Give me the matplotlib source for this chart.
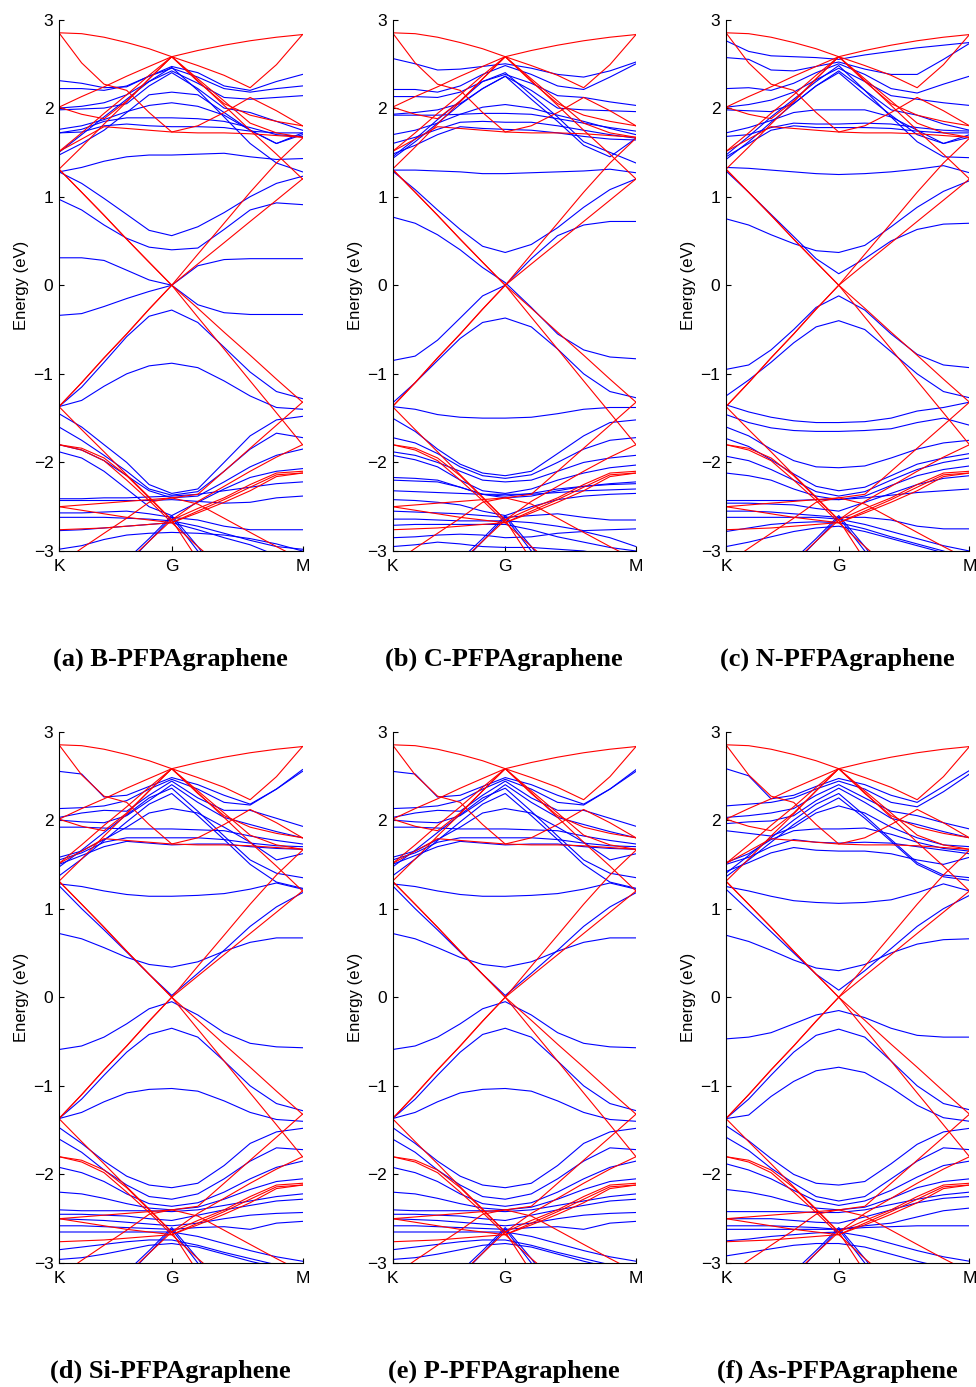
import matplotlib.pyplot as plt

# k-path sample points: K (0) -> G (0.463) -> M (1)
k = [0.0, 0.093, 0.185, 0.278, 0.370, 0.463, 0.570, 0.678, 0.785, 0.893, 1.0]
k_ticks = [0.0, 0.463, 1.0]
k_labels = ['K', 'G', 'M']

# pristine graphene supercell bands (red), same in every panel
red_bands = [
    [2.85, 2.84, 2.80, 2.74, 2.67, 2.58, 2.65, 2.71, 2.76, 2.80, 2.83],
    [2.85, 2.51, 2.27, 2.20, 1.95, 1.73, 1.80, 1.95, 2.12, 1.97, 1.80],
    [2.01, 2.13, 2.24, 2.36, 2.47, 2.58, 2.48, 2.37, 2.23, 2.49, 2.83],
    [2.01, 1.93, 1.88, 2.08, 2.33, 2.58, 2.30, 2.05, 1.92, 1.85, 1.80],
    [1.51, 1.65, 1.79, 1.77, 1.75, 1.73, 1.72, 1.72, 1.71, 1.69, 1.67],
    [1.51, 1.72, 1.94, 2.15, 2.37, 2.58, 2.33, 2.08, 1.83, 1.72, 1.67],
    [1.31, 1.56, 1.82, 2.07, 2.33, 2.58, 2.31, 2.03, 1.75, 1.48, 1.20],
    [1.31, 1.05, 0.79, 0.52, 0.26, 0.00, -0.26, -0.53, -0.79, -1.06, -1.32],
    [1.31, 1.05, 0.79, 0.52, 0.26, 0.00, -0.36, -0.72, -1.08, -1.44, -1.80],
    [-1.37, -1.10, -0.82, -0.55, -0.27, 0.00, 0.24, 0.48, 0.72, 0.96, 1.20],
    [-1.37, -1.10, -0.82, -0.55, -0.27, 0.00, 0.35, 0.70, 1.05, 1.38, 1.66],
    [-1.37, -1.63, -1.88, -2.14, -2.39, -2.65, -2.44, -2.27, -2.10, -1.94, -1.80],
    [-1.80, -1.84, -1.95, -2.15, -2.40, -2.65, -2.52, -2.40, -2.25, -2.12, -2.10],
    [-1.80, -1.86, -1.98, -2.20, -2.43, -2.68, -2.55, -2.42, -2.28, -2.14, -2.12],
    [-2.50, -2.48, -2.46, -2.44, -2.42, -2.40, -2.36, -2.10, -1.84, -1.58, -1.32],
    [-3.15, -2.97, -2.80, -2.63, -2.45, -2.40, -2.47, -2.63, -2.79, -2.95, -3.10],
    [-2.50, -2.54, -2.58, -2.62, -2.65, -2.68, -2.57, -2.45, -2.32, -2.16, -2.12],
    [-2.76, -2.75, -2.74, -2.72, -2.70, -2.68, -2.95, -3.20, -3.45, -3.70, -3.95],
    [-4.00, -3.80, -3.55, -3.13, -2.89, -2.65, -3.10, -3.50, -3.90, -4.20, -4.50],
]

steep_blue = [
    [-4.2, -3.9, -3.6, -3.15, -2.89, -2.62, -3.00, -3.40, -3.80, -4.10, -4.40],
    [-4.0, -3.7, -3.45, -3.10, -2.86, -2.60, -2.95, -3.35, -3.70, -4.00, -4.30],
]

blue_b_dop = [
    [2.31, 2.28, 2.23, 2.24, 2.36, 2.47, 2.40, 2.25, 2.20, 2.30, 2.38],
    [2.22, 2.22, 2.20, 2.25, 2.36, 2.45, 2.35, 2.22, 2.18, 2.22, 2.25],
    [2.00, 2.02, 2.06, 2.15, 2.30, 2.42, 2.28, 2.12, 2.10, 2.12, 2.14],
    [1.98, 1.99, 2.00, 2.05, 2.25, 2.40, 2.22, 2.00, 1.95, 1.85, 1.75],
    [1.76, 1.80, 1.87, 1.96, 2.03, 2.06, 2.02, 1.92, 1.75, 1.60, 1.70],
    [1.47, 1.60, 1.75, 1.95, 2.15, 2.18, 2.15, 1.95, 1.75, 1.60, 1.72],
    [1.72, 1.76, 1.85, 1.89, 1.89, 1.89, 1.88, 1.85, 1.78, 1.70, 1.68],
    [1.72, 1.73, 1.80, 1.82, 1.80, 1.79, 1.79, 1.78, 1.74, 1.72, 1.72],
    [1.28, 1.33, 1.40, 1.45, 1.47, 1.47, 1.48, 1.49, 1.45, 1.42, 1.43],
    [1.50, 1.70, 1.90, 2.10, 2.30, 2.46, 2.20, 1.90, 1.60, 1.38, 1.28],
    [1.28, 1.15, 0.98, 0.80, 0.62, 0.56, 0.66, 0.82, 1.00, 1.15, 1.23],
    [0.97, 0.85, 0.68, 0.53, 0.43, 0.40, 0.42, 0.63, 0.85, 0.93, 0.91],
    [0.31, 0.31, 0.28, 0.17, 0.06, 0.00, -0.22, -0.31, -0.33, -0.33, -0.33],
    [-0.34, -0.32, -0.24, -0.15, -0.07, 0.00, 0.22, 0.29, 0.30, 0.30, 0.30],
    [-1.37, -1.15, -0.87, -0.58, -0.35, -0.28, -0.42, -0.70, -0.98, -1.20, -1.28],
    [-1.37, -1.30, -1.14, -1.00, -0.91, -0.88, -0.93, -1.08, -1.25, -1.38, -1.40],
    [-1.45, -1.60, -1.80, -2.00, -2.25, -2.35, -2.30, -2.00, -1.70, -1.52, -1.48],
    [-1.60, -1.75, -1.92, -2.10, -2.30, -2.37, -2.33, -2.10, -1.85, -1.67, -1.72],
    [-1.80, -1.86, -1.98, -2.15, -2.32, -2.40, -2.38, -2.22, -2.05, -1.92, -1.85],
    [-1.88, -1.95, -2.10, -2.30, -2.50, -2.60, -2.45, -2.30, -2.17, -2.10, -2.07],
    [-2.41, -2.41, -2.40, -2.40, -2.39, -2.38, -2.36, -2.32, -2.28, -2.24, -2.22],
    [-2.43, -2.43, -2.43, -2.43, -2.43, -2.42, -2.44, -2.46, -2.45, -2.40, -2.38],
    [-2.57, -2.57, -2.56, -2.55, -2.58, -2.62, -2.65, -2.72, -2.76, -2.76, -2.76],
    [-2.62, -2.62, -2.62, -2.63, -2.64, -2.66, -2.72, -2.80, -2.88, -2.95, -2.98],
    [-2.77, -2.76, -2.74, -2.72, -2.70, -2.68, -2.76, -2.85, -2.93, -3.05, -3.10],
    [-2.98, -2.94, -2.87, -2.82, -2.80, -2.79, -2.80, -2.82, -2.86, -2.92, -3.00],
]

blue_c_dop = [
    [2.56, 2.50, 2.43, 2.44, 2.47, 2.50, 2.45, 2.38, 2.35, 2.42, 2.52],
    [2.21, 2.21, 2.18, 2.25, 2.38, 2.48, 2.38, 2.25, 2.21, 2.35, 2.50],
    [2.13, 2.13, 2.12, 2.18, 2.30, 2.38, 2.28, 2.14, 2.12, 2.07, 2.03],
    [1.93, 1.95, 1.98, 2.05, 2.22, 2.36, 2.20, 2.00, 1.98, 1.97, 1.96],
    [1.70, 1.75, 1.83, 1.93, 2.01, 2.04, 2.00, 1.92, 1.85, 1.77, 1.70],
    [1.92, 1.92, 1.92, 1.93, 1.94, 1.94, 1.93, 1.88, 1.83, 1.78, 1.74],
    [1.60, 1.67, 1.76, 1.84, 1.85, 1.84, 1.84, 1.80, 1.75, 1.70, 1.66],
    [1.48, 1.58, 1.70, 1.79, 1.77, 1.76, 1.75, 1.72, 1.68, 1.65, 1.64],
    [1.45, 1.65, 1.87, 2.08, 2.30, 2.40, 2.15, 1.90, 1.62, 1.50, 1.38],
    [1.43, 1.62, 1.83, 2.04, 2.22, 2.36, 2.10, 1.85, 1.58, 1.45, 1.66],
    [1.30, 1.30, 1.29, 1.28, 1.26, 1.26, 1.27, 1.28, 1.29, 1.31, 1.27],
    [1.29, 1.08, 0.85, 0.63, 0.44, 0.37, 0.46, 0.65, 0.88, 1.08, 1.20],
    [0.77, 0.70, 0.57, 0.40, 0.20, 0.03, -0.25, -0.55, -0.73, -0.81, -0.83],
    [-0.85, -0.80, -0.62, -0.37, -0.12, 0.00, 0.30, 0.56, 0.68, 0.72, 0.72],
    [-1.33, -1.10, -0.85, -0.60, -0.42, -0.37, -0.47, -0.72, -1.00, -1.20, -1.27],
    [-1.37, -1.40, -1.46, -1.49, -1.50, -1.50, -1.49, -1.45, -1.40, -1.38, -1.38],
    [-1.50, -1.65, -1.85, -2.02, -2.12, -2.15, -2.10, -1.90, -1.70, -1.55, -1.52],
    [-1.72, -1.78, -1.90, -2.05, -2.15, -2.18, -2.14, -2.00, -1.85, -1.75, -1.72],
    [-1.88, -1.92, -2.00, -2.10, -2.20, -2.22, -2.20, -2.10, -2.00, -1.95, -1.92],
    [-1.92, -1.97, -2.05, -2.20, -2.32, -2.35, -2.30, -2.20, -2.12, -2.06, -2.03],
    [-2.17, -2.18, -2.20, -2.28, -2.36, -2.40, -2.38, -2.32, -2.27, -2.24, -2.22],
    [-2.20, -2.21, -2.22, -2.28, -2.36, -2.38, -2.35, -2.30, -2.27, -2.25, -2.24],
    [-2.32, -2.33, -2.34, -2.35, -2.36, -2.36, -2.36, -2.34, -2.32, -2.31, -2.30],
    [-2.42, -2.43, -2.45, -2.48, -2.55, -2.60, -2.50, -2.42, -2.38, -2.36, -2.35],
    [-2.55, -2.56, -2.57, -2.58, -2.60, -2.62, -2.60, -2.58, -2.62, -2.65, -2.65],
    [-2.64, -2.64, -2.65, -2.66, -2.66, -2.66, -2.68, -2.72, -2.77, -2.76, -2.75],
    [-2.71, -2.70, -2.70, -2.70, -2.70, -2.70, -2.76, -2.84, -2.90, -2.96, -3.00],
    [-2.85, -2.84, -2.82, -2.81, -2.82, -2.85, -2.84, -2.80, -2.78, -2.85, -2.95],
    [-2.95, -2.93, -2.90, -2.92, -2.95, -2.96, -2.96, -2.98, -3.00, -3.05, -3.10],
]

blue_n_dop = [
    [2.76, 2.64, 2.59, 2.58, 2.57, 2.55, 2.60, 2.64, 2.68, 2.71, 2.74],
    [2.57, 2.55, 2.43, 2.42, 2.47, 2.52, 2.44, 2.38, 2.38, 2.55, 2.73],
    [2.22, 2.23, 2.20, 2.28, 2.40, 2.50, 2.38, 2.22, 2.17, 2.27, 2.36],
    [2.01, 2.04, 2.09, 2.18, 2.32, 2.45, 2.30, 2.14, 2.10, 2.06, 2.03],
    [1.98, 1.97, 1.96, 2.05, 2.25, 2.42, 2.20, 1.98, 1.92, 1.82, 1.75],
    [1.72, 1.78, 1.86, 1.95, 1.98, 1.98, 1.98, 1.90, 1.75, 1.60, 1.67],
    [1.68, 1.70, 1.78, 1.83, 1.82, 1.82, 1.83, 1.82, 1.78, 1.75, 1.74],
    [1.45, 1.60, 1.75, 1.80, 1.78, 1.78, 1.78, 1.77, 1.74, 1.72, 1.72],
    [1.47, 1.68, 1.90, 2.10, 2.30, 2.48, 2.20, 1.90, 1.62, 1.45, 1.44],
    [1.42, 1.62, 1.84, 2.05, 2.25, 2.40, 2.15, 1.92, 1.70, 1.60, 1.70],
    [1.33, 1.32, 1.30, 1.28, 1.26, 1.25, 1.26, 1.28, 1.31, 1.35, 1.27],
    [1.29, 1.05, 0.80, 0.55, 0.30, 0.13, 0.30, 0.50, 0.63, 0.69, 0.70],
    [0.75, 0.68, 0.57, 0.47, 0.39, 0.37, 0.45, 0.66, 0.88, 1.06, 1.18],
    [-0.95, -0.90, -0.73, -0.50, -0.25, -0.12, -0.28, -0.55, -0.78, -0.90, -0.93],
    [-1.25, -1.07, -0.87, -0.65, -0.47, -0.40, -0.50, -0.75, -1.00, -1.20, -1.27],
    [-1.35, -1.43, -1.49, -1.53, -1.55, -1.55, -1.54, -1.50, -1.42, -1.38, -1.32],
    [-1.46, -1.55, -1.61, -1.64, -1.65, -1.65, -1.64, -1.62, -1.55, -1.50, -1.58],
    [-1.60, -1.70, -1.85, -1.98, -2.05, -2.06, -2.04, -1.95, -1.85, -1.78, -1.75],
    [-1.73, -1.82, -1.97, -2.13, -2.27, -2.32, -2.28, -2.15, -2.02, -1.95, -1.90],
    [-1.93, -1.98, -2.08, -2.20, -2.33, -2.38, -2.33, -2.20, -2.08, -2.00, -1.95],
    [-2.12, -2.15, -2.20, -2.30, -2.38, -2.42, -2.38, -2.26, -2.15, -2.08, -2.04],
    [-2.43, -2.43, -2.43, -2.43, -2.42, -2.42, -2.40, -2.37, -2.34, -2.32, -2.30],
    [-2.46, -2.46, -2.47, -2.48, -2.52, -2.55, -2.45, -2.35, -2.25, -2.18, -2.15],
    [-2.55, -2.55, -2.56, -2.58, -2.60, -2.62, -2.62, -2.65, -2.72, -2.75, -2.75],
    [-2.62, -2.62, -2.62, -2.62, -2.62, -2.64, -2.70, -2.78, -2.86, -2.94, -3.00],
    [-2.78, -2.74, -2.70, -2.68, -2.67, -2.68, -2.75, -2.84, -2.92, -3.00, -3.10],
    [-2.95, -2.90, -2.84, -2.78, -2.74, -2.72, -2.78, -2.86, -2.94, -3.02, -3.10],
]

blue_si_dop = [
    [2.55, 2.52, 2.26, 2.28, 2.38, 2.48, 2.40, 2.28, 2.18, 2.35, 2.57],
    [2.13, 2.14, 2.16, 2.22, 2.35, 2.46, 2.35, 2.20, 2.17, 2.35, 2.55],
    [2.03, 2.08, 2.11, 2.10, 2.28, 2.44, 2.25, 2.11, 2.11, 2.02, 1.93],
    [2.00, 1.98, 1.97, 2.05, 2.22, 2.40, 2.20, 2.03, 1.95, 1.87, 1.80],
    [1.58, 1.65, 1.78, 1.92, 2.08, 2.13, 2.08, 1.92, 1.75, 1.55, 1.62],
    [1.92, 1.92, 1.91, 1.90, 1.90, 1.90, 1.89, 1.88, 1.82, 1.77, 1.73],
    [1.55, 1.63, 1.75, 1.80, 1.80, 1.80, 1.80, 1.78, 1.74, 1.71, 1.70],
    [1.50, 1.60, 1.70, 1.76, 1.74, 1.72, 1.73, 1.73, 1.70, 1.68, 1.67],
    [1.47, 1.66, 1.86, 2.06, 2.25, 2.36, 2.10, 1.82, 1.55, 1.40, 1.35],
    [1.37, 1.56, 1.77, 1.98, 2.18, 2.30, 2.05, 1.78, 1.50, 1.30, 1.23],
    [1.28, 1.25, 1.20, 1.16, 1.14, 1.14, 1.15, 1.17, 1.22, 1.29, 1.22],
    [1.26, 1.00, 0.76, 0.51, 0.26, 0.02, 0.27, 0.53, 0.80, 1.02, 1.18],
    [0.72, 0.66, 0.56, 0.45, 0.37, 0.34, 0.40, 0.52, 0.62, 0.67, 0.67],
    [-0.59, -0.55, -0.45, -0.30, -0.13, -0.05, -0.20, -0.40, -0.52, -0.56, -0.57],
    [-1.37, -1.15, -0.88, -0.62, -0.42, -0.35, -0.45, -0.72, -1.00, -1.20, -1.28],
    [-1.37, -1.30, -1.18, -1.08, -1.04, -1.03, -1.06, -1.17, -1.30, -1.38, -1.40],
    [-1.47, -1.65, -1.85, -2.02, -2.12, -2.15, -2.10, -1.90, -1.65, -1.52, -1.48],
    [-1.60, -1.75, -1.95, -2.12, -2.25, -2.28, -2.22, -2.05, -1.85, -1.70, -1.72],
    [-1.92, -1.98, -2.08, -2.22, -2.33, -2.36, -2.32, -2.20, -2.05, -1.92, -1.85],
    [-2.20, -2.22, -2.27, -2.33, -2.38, -2.40, -2.37, -2.28, -2.17, -2.08, -2.05],
    [-2.40, -2.41, -2.41, -2.41, -2.41, -2.42, -2.40, -2.35, -2.30, -2.25, -2.22],
    [-2.45, -2.45, -2.46, -2.47, -2.50, -2.52, -2.46, -2.40, -2.35, -2.30, -2.28],
    [-2.50, -2.51, -2.52, -2.54, -2.56, -2.58, -2.55, -2.50, -2.46, -2.44, -2.43],
    [-2.58, -2.58, -2.59, -2.60, -2.61, -2.62, -2.60, -2.59, -2.62, -2.55, -2.53],
    [-2.65, -2.65, -2.65, -2.65, -2.65, -2.65, -2.70, -2.78, -2.86, -2.93, -2.98],
    [-2.85, -2.82, -2.79, -2.76, -2.74, -2.74, -2.80, -2.88, -2.95, -3.02, -3.10],
    [-2.96, -2.94, -2.90, -2.85, -2.80, -2.78, -2.82, -2.90, -2.98, -3.05, -3.10],
]

# P-doped bands read the same as the Si-doped ones
blue_p_dop = blue_si_dop

blue_as_dop = [
    [2.58, 2.50, 2.24, 2.28, 2.38, 2.47, 2.40, 2.28, 2.20, 2.38, 2.56],
    [2.16, 2.18, 2.20, 2.25, 2.35, 2.44, 2.35, 2.20, 2.15, 2.32, 2.52],
    [2.03, 2.05, 2.08, 2.13, 2.28, 2.40, 2.25, 2.10, 2.05, 1.97, 1.90],
    [1.96, 1.98, 1.99, 2.05, 2.22, 2.36, 2.20, 2.02, 1.95, 1.87, 1.80],
    [1.88, 1.85, 1.82, 1.92, 2.08, 2.16, 2.08, 1.92, 1.80, 1.72, 1.70],
    [1.52, 1.62, 1.78, 1.88, 1.90, 1.90, 1.91, 1.84, 1.75, 1.68, 1.65],
    [1.50, 1.58, 1.70, 1.78, 1.75, 1.74, 1.75, 1.74, 1.70, 1.66, 1.62],
    [1.42, 1.52, 1.63, 1.69, 1.66, 1.65, 1.65, 1.62, 1.55, 1.50, 1.58],
    [1.40, 1.60, 1.80, 2.00, 2.18, 2.30, 2.05, 1.78, 1.52, 1.38, 1.35],
    [1.36, 1.55, 1.75, 1.95, 2.12, 2.25, 2.02, 1.76, 1.50, 1.36, 1.32],
    [1.25, 1.20, 1.14, 1.09, 1.07, 1.06, 1.07, 1.10, 1.18, 1.28, 1.20],
    [1.22, 0.98, 0.74, 0.50, 0.26, 0.08, 0.30, 0.55, 0.80, 1.00, 1.15],
    [0.70, 0.63, 0.53, 0.42, 0.33, 0.30, 0.37, 0.50, 0.60, 0.65, 0.66],
    [-0.47, -0.45, -0.40, -0.30, -0.20, -0.15, -0.23, -0.35, -0.43, -0.45, -0.45],
    [-1.37, -1.15, -0.88, -0.62, -0.43, -0.36, -0.45, -0.72, -1.00, -1.20, -1.27],
    [-1.37, -1.33, -1.12, -0.95, -0.83, -0.79, -0.85, -1.02, -1.22, -1.36, -1.40],
    [-1.45, -1.62, -1.82, -2.00, -2.10, -2.12, -2.08, -1.88, -1.66, -1.52, -1.48],
    [-1.58, -1.73, -1.93, -2.10, -2.25, -2.30, -2.25, -2.05, -1.85, -1.70, -1.72],
    [-1.88, -1.95, -2.05, -2.18, -2.30, -2.35, -2.30, -2.18, -2.03, -1.90, -1.85],
    [-2.17, -2.20, -2.25, -2.32, -2.38, -2.40, -2.37, -2.27, -2.15, -2.08, -2.05],
    [-2.42, -2.42, -2.42, -2.42, -2.43, -2.43, -2.40, -2.34, -2.28, -2.23, -2.20],
    [-2.50, -2.50, -2.50, -2.52, -2.54, -2.55, -2.48, -2.40, -2.32, -2.27, -2.25],
    [-2.58, -2.58, -2.58, -2.59, -2.60, -2.62, -2.58, -2.55, -2.48, -2.41, -2.38],
    [-2.62, -2.62, -2.62, -2.62, -2.62, -2.62, -2.60, -2.59, -2.58, -2.58, -2.58],
    [-2.75, -2.73, -2.70, -2.68, -2.66, -2.65, -2.70, -2.78, -2.86, -2.93, -2.98],
    [-2.92, -2.88, -2.84, -2.80, -2.78, -2.78, -2.82, -2.90, -2.98, -3.05, -3.10],
]

captions = ['(a) B-PFPAgraphene', '(b) C-PFPAgraphene', '(c) N-PFPAgraphene',
            '(d) Si-PFPAgraphene', '(e) P-PFPAgraphene', '(f) As-PFPAgraphene']
blue_sets = [blue_b_dop, blue_c_dop, blue_n_dop, blue_si_dop, blue_p_dop, blue_as_dop]

fig = plt.figure(figsize=(9.76, 13.87), dpi=100)

lefts = [59, 392.5, 726]
tops = [19.5, 731.5]
W, H = 976.0, 1387.0
ax_w, ax_h = 243.5, 531.5
cap_x = [170, 504, 837]
cap_y = [659, 1371]

for i, (cap, blues) in enumerate(zip(captions, blue_sets)):
    row, col = divmod(i, 3)
    ax = fig.add_axes([lefts[col] / W, 1 - (tops[row] + ax_h) / H, ax_w / W, ax_h / H])
    for b in blues + steep_blue:
        ax.plot(k, b, color='#0000ff', lw=0.8)
    for r in red_bands:
        ax.plot(k, r, color='#ff0000', lw=0.8)
    ax.set_xlim(0, 1)
    ax.set_ylim(-3, 3)
    ax.set_xticks(k_ticks)
    ax.set_xticklabels(k_labels)
    ax.set_yticks(range(-3, 4))
    ax.set_yticklabels([str(v).replace('-', '\u2212') for v in range(-3, 4)])
    ax.spines['top'].set_visible(False)
    ax.spines['right'].set_visible(False)
    ax.tick_params(direction='in', length=3.5, width=0.8, labelsize=12.5, pad=4)
    ax.tick_params(axis='x', pad=6)
    for lab in ax.get_xticklabels() + ax.get_yticklabels():
        lab.set_family('Liberation Sans')
    ax.set_ylabel('Energy (eV)', family='Liberation Sans', fontsize=12, labelpad=3)
    fig.text(cap_x[col] / W, 1 - cap_y[row] / H, cap, ha='center', va='center',
             family='Liberation Serif', weight='bold', fontsize=19)

plt.savefig('out.png', dpi=100)
